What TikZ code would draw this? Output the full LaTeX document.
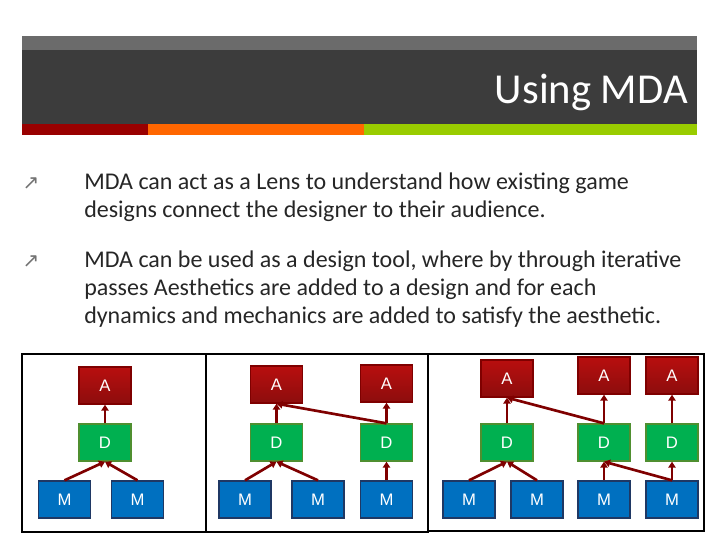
\documentclass[tikz,border=0pt]{standalone}
\usepackage{fontspec}
\setmainfont{Carlito}
\newfontfamily\boxfont{Liberation Sans}
\newfontfamily\symfont{DejaVu Sans}
\usetikzlibrary{positioning,arrows.meta}
\definecolor{hdrgray}{HTML}{6B6B6B}
\definecolor{hdrdark}{HTML}{3C3C3C}
\definecolor{stripred}{HTML}{990000}
\definecolor{striporange}{HTML}{FF6600}
\definecolor{stripgreen}{HTML}{99CC00}
\definecolor{linkred}{HTML}{7F0000}
\definecolor{afill}{HTML}{B01010}
\definecolor{dfill}{HTML}{00B050}
\definecolor{dline}{HTML}{4F8F30}
\definecolor{mfill}{HTML}{0070C0}
\definecolor{mline}{HTML}{1F3864}
\tikzset{
  mdabox/.style={minimum width=39pt, minimum height=27.75pt, inner sep=0pt,
    text=white, font=\boxfont\fontsize{12.5}{14}\selectfont, line width=1pt},
  abox/.style={mdabox, draw=linkred, top color=afill!90!red, bottom color=afill!80!black},
  dbox/.style={mdabox, draw=dline, fill=dfill},
  mbox/.style={mdabox, draw=mline, fill=mfill},
  link/.style={draw=linkred, line width=2pt, -{Triangle[length=4.5pt,width=5.5pt]}},
  frame/.style={draw=black, line width=1.6pt},
  bullet/.style={anchor=north west, align=left, text=black!85,
    font=\fontsize{18}{21}\selectfont, inner sep=0pt},
  bulletsym/.style={text=black!55, font=\symfont\fontsize{15}{15}\selectfont}
}
\begin{document}
\begin{tikzpicture}[x=0.75pt, y=-0.75pt]
  \useasboundingbox (0,0) rectangle (720,540);

  % === Bandeau de titre ===
  \fill[hdrgray] (22,36) rectangle (697,50);
  \fill[hdrdark] (22,50) rectangle (697,124);
  \fill[stripred] (22,124) rectangle (148,135);
  \fill[striporange] (148,124) rectangle (364,135);
  \fill[stripgreen] (364,124) rectangle (697,135);
  \node[anchor=base east, text=white, font=\fontsize{32}{34}\selectfont, inner sep=0pt]
    (title) at (688,103) {Using MDA};

  % === Puces ===
  \node[bulletsym] (b1sym) at (31,184) {↗};
  \node[bullet] (b1) at (84,173)
    {MDA can act as a Lens to understand how existing game\\
     designs connect the designer to their audience.};
  \node[bulletsym] (b2sym) at (31,262) {↗};
  \node[bullet] (b2) at (84,251)
    {MDA can be used as a design tool, where by through iterative\\
     passes Aesthetics are added to a design and for each\\
     dynamics and mechanics are added to satisfy the aesthetic.};

  % === Cadres ===
  \draw[frame] (22,354) rectangle (206,532);
  \draw[frame] (206,354) rectangle (428,532);
  \draw[frame] (428,354) rectangle (704,531);

  % === Cadre 1 ===
  \node[abox] (a1) at (105,385.5) {A};
  \node[dbox] (d1) at (105,442.5) {D};
  \node[mbox] (m1) at (64.5,499.5) {M};
  \node[mbox] (m2) at (137.5,499.5) {M};

  % === Cadre 2 ===
  \node[abox] (a2) at (276.5,384.5) {A};
  \node[dbox] (d2) at (276.5,442.5) {D};
  \node[mbox] (m3) at (245,499.5) {M};
  \node[mbox] (m4) at (318,499.5) {M};
  \node[abox] (a3) at (386.5,383.5) {A};
  \node[dbox] (d3) at (386.5,442.5) {D};
  \node[mbox] (m5) at (386.5,499.5) {M};

  % === Cadre 3 ===
  \node[abox] (a4) at (507,378.5) {A};
  \node[abox] (a5) at (604,375.5) {A};
  \node[abox] (a6) at (672,375.5) {A};
  \node[dbox] (d4) at (507,442.5) {D};
  \node[dbox] (d5) at (604,442.5) {D};
  \node[dbox] (d6) at (672,442.5) {D};
  \node[mbox] (m6) at (469,499.5) {M};
  \node[mbox] (m7) at (537,499.5) {M};
  \node[mbox] (m8) at (604,499.5) {M};
  \node[mbox] (m9) at (672,499.5) {M};

  % === Liens ===
  \foreach \m/\d in {m1/d1,m2/d1,m3/d2,m4/d2,m5/d3,m6/d4,m7/d4,m8/d5,m9/d5,m9/d6} {
    \draw[link] (\m.north) -- (\d.south);
  }
  \foreach \d/\a in {d1/a1,d2/a2,d3/a3,d3/a2,d4/a4,d5/a5,d5/a4,d6/a6} {
    \draw[link] (\d.north) -- (\a.south);
  }

\end{tikzpicture}
\end{document}
